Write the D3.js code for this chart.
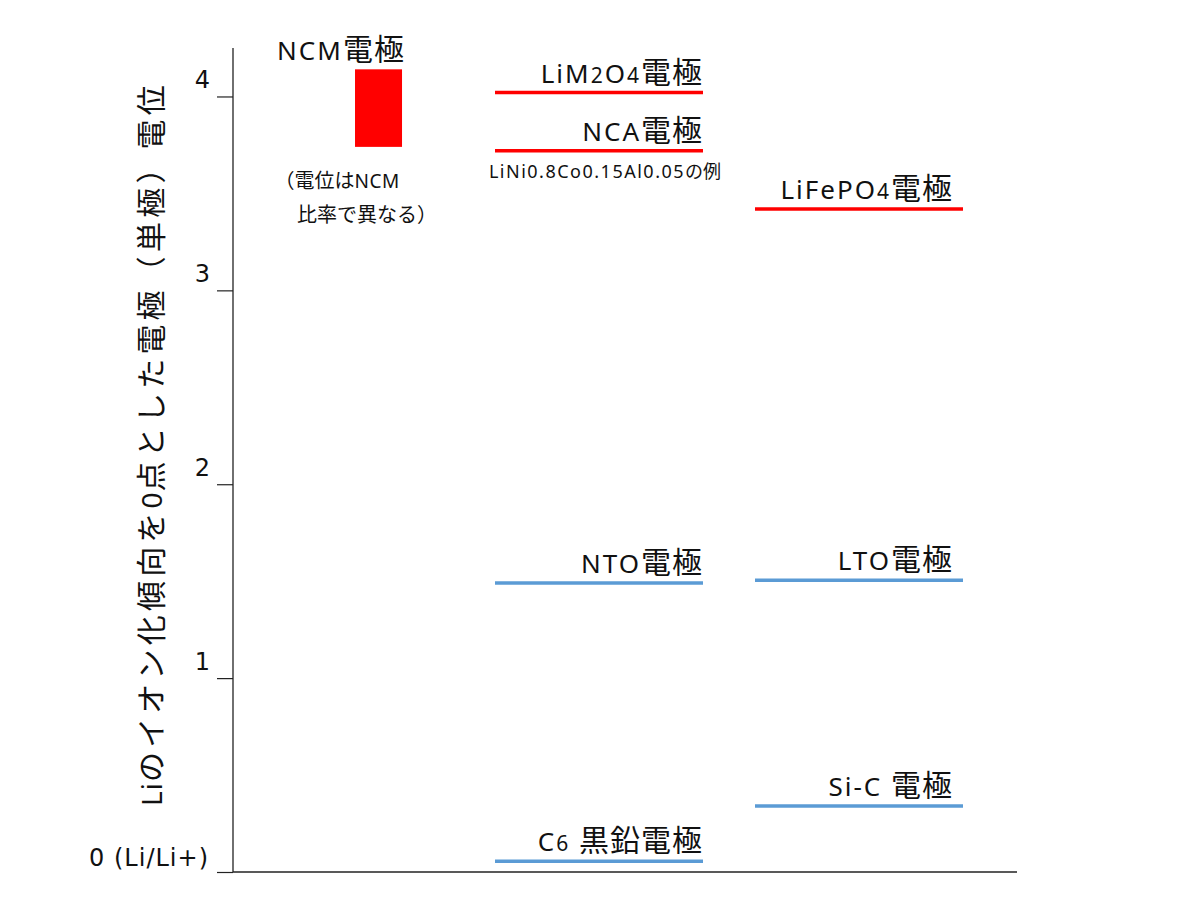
<!DOCTYPE html>
<html><head><meta charset="utf-8">
<script src="https://cdn.jsdelivr.net/npm/d3@7"></script>
<style>body{margin:0;background:#fff;} text{font-family:"Noto Sans","Noto Sans CJK JP",sans-serif;fill:#111;}</style>
</head><body>
<svg id="chart" width="1200" height="900"></svg>
<script>
// ---- data ----
const columns = ["A", "B", "C"];
const lineNames = ["LiM_2O_4電極", "NCA電極", "LiFePO_4電極", "NTO電極", "LTO電極", "Si-C 電極", "C_6 黒鉛電極"];
const lineColumns = ["B", "B", "C", "B", "C", "C", "B"];
const linePotentials = [4.02, 3.72, 3.42, 1.49, 1.505, 0.34, 0.055];
const lineKinds = ["正極", "正極", "正極", "負極", "負極", "負極", "負極"];
const ncmName = "NCM電極";
const ncmColumn = "A";
const ncmRange = [3.74, 4.14];
const ncmNote = ["（電位はNCM", "比率で異なる）"];
const ncaNote = "LiNi0.8Co0.15Al0.05の例";
const tickValues = [0, 1, 2, 3, 4];
const tickLabels = ["0 (Li/Li+)", "1", "2", "3", "4"];
const yTitle = "Liのイオン化傾向を0点とした電極（単極）電位";

(function () {
const svg = d3.select("#chart");
const pL = 233, pR = 1017, pT = 48, pB = 872;
const y = d3.scaleLinear().domain([0, 4.25]).range([pB, pT]);
const x = d3.scaleBand().domain(columns).range([235, 963]).paddingInner(0.2).paddingOuter(0);
const color = d3.scaleOrdinal().domain(["正極", "負極"]).range(["#ff0000", "#5b9bd5"]);
const CJK = /([\u3000-\u30ff\u4e00-\u9fff\uff00-\uffef]+)/;

// write mixed Latin / CJK text into a text element with separate run styles
function mixed(sel, str, st) {
  str.split(/(_\d)/).filter(s => s.length).forEach(part => {
    if (part[0] === "_") {
      sel.append("tspan").style("font-size", st.sub + "px").style("letter-spacing", st.ls + "px").text(part.slice(1));
      return;
    }
    part.split(CJK).filter(s => s.length).forEach(run => {
      const isC = CJK.test(run);
      sel.append("tspan")
        .style("font-family", isC ? "'Noto Sans CJK JP',sans-serif" : "'Noto Sans','Noto Sans CJK JP',sans-serif")
        .style("font-size", (isC ? st.cjk : st.lat) + "px")
        .style("letter-spacing", (isC ? st.cls : st.ls) + "px")
        .text(run);
    });
  });
}

// axes
svg.append("line").attr("x1", pL).attr("x2", pL).attr("y1", pT).attr("y2", pB).attr("stroke", "#222").attr("stroke-width", 1.3);
svg.append("line").attr("x1", pL).attr("x2", pR).attr("y1", pB).attr("y2", pB).attr("stroke", "#222").attr("stroke-width", 1.3);

const yAxis = d3.axisLeft(y).tickValues(tickValues).tickSize(16).tickFormat((d, i) => tickLabels[i]);
const ga = svg.append("g").attr("transform", `translate(${pL},0)`).call(yAxis);
ga.select(".domain").remove();
ga.selectAll(".tick line").attr("stroke", "#222").attr("stroke-width", 1.2);
ga.selectAll(".tick text").attr("x", d => d === 0 ? -24 : -23).attr("dy", 0).attr("y", d => d === 0 ? -7 : -9)
  .style("font-size", "24px")
  .style("letter-spacing", d => d === 0 ? "1px" : "0px")
  .style("font-family", "'DejaVu Sans',sans-serif").attr("fill", "#111");

// y title
const yt = svg.append("text").attr("transform", `translate(162,${(75 + 812) / 2}) rotate(-90)`)
  .attr("text-anchor", "middle");
mixed(yt, yTitle, { lat: 28, cjk: 30, ls: 1, cls: 4.2, sub: 20 });

// NCM rect
const bw = x.bandwidth();
svg.append("rect").attr("x", x(ncmColumn) + bw * 0.577).attr("width", bw * 0.226)
  .attr("y", y(ncmRange[1])).attr("height", y(ncmRange[0]) - y(ncmRange[1])).attr("fill", color("正極"));
const nt = svg.append("text").attr("x", x(ncmColumn) + bw / 2 + 2).attr("y", 60).attr("text-anchor", "middle");
mixed(nt, ncmName, { lat: 26, cjk: 30, ls: 2, cls: 1, sub: 20 });
const n1 = svg.append("text").attr("x", x(ncmColumn) + bw * 0.19).attr("y", 188).attr("text-anchor", "start");
mixed(n1, ncmNote[0], { lat: 19, cjk: 20, ls: 0.5, cls: 0, sub: 14 });
const n2 = svg.append("text").attr("x", x(ncmColumn) + bw * 0.298).attr("y", 222).attr("text-anchor", "start");
mixed(n2, ncmNote[1], { lat: 19, cjk: 20, ls: 0.5, cls: 0, sub: 14 });

// lines
const rows = lineNames.map((n, i) => ({ name: n, col: lineColumns[i], v: linePotentials[i], kind: lineKinds[i] }));
svg.selectAll("line.pot").data(rows).enter().append("line").attr("class", "pot")
  .attr("x1", d => x(d.col)).attr("x2", d => x(d.col) + bw)
  .attr("y1", d => y(d.v)).attr("y2", d => y(d.v))
  .attr("stroke", d => color(d.kind)).attr("stroke-width", 3.5);

const lbl = svg.selectAll("text.lbl").data(rows).enter().append("text").attr("class", "lbl")
  .attr("x", d => x(d.col) + bw - (d.col === "C" ? 10 : 0)).attr("y", d => y(d.v) - 10)
  .attr("text-anchor", "end");
lbl.each(function (d) { mixed(d3.select(this), d.name, { lat: 26, cjk: 30, ls: 2, cls: 1, sub: 21 }); });

const na = svg.append("text").attr("x", x("B") + bw / 2 + 6).attr("y", y(3.72) + 27).attr("text-anchor", "middle");
mixed(na, ncaNote, { lat: 18, cjk: 18, ls: 1.5, cls: 0, sub: 14 });
})();
</script>
</body></html>
